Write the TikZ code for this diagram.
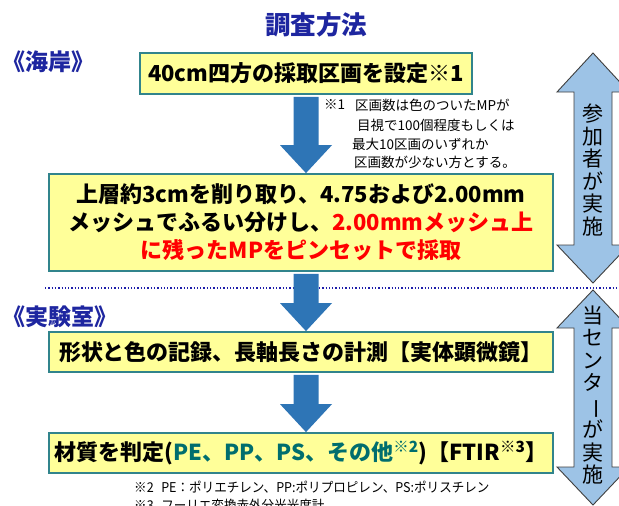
\documentclass[tikz,border=0pt]{standalone}
\usepackage{fontspec}
\usepackage{graphicx}
\setmainfont{Noto Sans CJK JP}
\usetikzlibrary{calc}
\definecolor{titleblue}{RGB}{30,38,160}
\definecolor{arrowblue}{RGB}{46,117,182}
\definecolor{boxfill}{RGB}{255,255,153}
\definecolor{boxline}{RGB}{49,132,140}
\definecolor{sideblue}{RGB}{157,195,230}
\definecolor{plastic}{RGB}{0,110,110}
\definecolor{dotblue}{RGB}{30,30,170}
\tikzset{
  stepbox/.style={draw=boxline, line width=1.8pt, fill=boxfill, inner sep=0pt, align=center,
    font=\bfseries\fontsize{22}{28}\selectfont},
  flowarrow/.style={fill=arrowblue},
  sidearrow/.style={fill=sideblue, draw=black!75, line width=0.9pt},
  sidetext/.style={align=center, inner sep=0pt, font=\fontsize{21}{22.5}\selectfont},
  notetext/.style={anchor=west, inner sep=0pt, font=\fontsize{13.5}{16}\selectfont},
  headtext/.style={anchor=west, text=titleblue, inner sep=0pt, font=\bfseries\fontsize{23}{26}\selectfont}
}
\newcommand\flowblock[2]{%
  \fill[flowarrow] ($(ax |- #1.south)+(-12.5,2)$) -- ($(ax |- #1.south)+(12.5,2)$)
    -- ($(ax |- #2.north)+(12.5,-28)$) -- ($(ax |- #2.north)+(26,-28)$)
    -- (ax |- #2.north) -- ($(ax |- #2.north)+(-26,-28)$)
    -- ($(ax |- #2.north)+(-12.5,-28)$) -- cycle;}
\begin{document}
\begin{tikzpicture}[x=1pt,y=-1pt]
\clip (0,0) rectangle (619,506);
\fill[white] (0,0) rectangle (619,506);
\coordinate (ax) at (306,0);

% title and section heads
\node[text=titleblue, font=\bfseries\fontsize{25.5}{28}\selectfont] (title) at (316,25) {調査方法};
\node[headtext] (coast) at (2,62) {《海岸》};
\node[headtext] (lab) at (2,317) {《実験室》};

% dotted separator
\coordinate (dl) at (45,288);
\coordinate (dr) at (619,288);
\draw[dotblue, dotted, line width=1.3pt] (dl) -- (dr);

% boxes
\node[stepbox, minimum width=332pt, minimum height=41pt] (b1) at (306,73.5) {40cm四方の採取区画を設定※1};
\node[stepbox, minimum width=504pt, minimum height=97pt] (b2) at (301,222.5)
  {上層約3cmを削り取り、4.75および2.00mm\\
   メッシュでふるい分けし、\textcolor{red}{2.00mmメッシュ上}\\
   \textcolor{red}{に残ったMPをピンセットで採取}};
\node[stepbox, minimum width=504pt, minimum height=40pt] (b3) at (301,352) {形状と色の記録、長軸長さの計測【実体顕微鏡】};
\node[stepbox, minimum width=504pt, minimum height=40pt] (b4) at (301,453)
  {材質を判定(\textcolor{plastic}{PE、PP、PS、その他\textsuperscript{※2}})【FTIR\textsuperscript{※3}】};

% flow arrows
\flowblock{b1}{b2}
\flowblock{b2}{b3}
\flowblock{b3}{b4}

% note 1
\node[notetext] (n1a) at (324,105) {※1};
\node[notetext] (n1b) at (355,105) {区画数は色のついたMPが};
\node[notetext] (n1c) at (357,125) {目視で100個程度もしくは};
\node[notetext] (n1d) at (352,144) {最大10区画のいずれか};
\node[notetext] (n1e) at (354,162) {区画数が少ない方とする。};

% notes 2 and 3
\node[notetext] (n2) at (134,487) {\scalebox{0.93}[1]{※2\hspace{0.6em}PE：ポリエチレン、PP:ポリプロピレン、PS:ポリスチレン}};
\node[notetext] (n3) at (134,505) {\scalebox{0.93}[1]{※3\hspace{0.6em}フーリエ変換赤外分光光度計}};

% side double arrows
\draw[sidearrow] (593,53) -- (629,92) -- (612,92) -- (612,245) -- (629,245) -- (593,283)
  -- (557,245) -- (574,245) -- (574,92) -- (557,92) -- cycle;
\node[sidetext] (s1) at (593,170) {参\\加\\者\\が\\実\\施};
\draw[sidearrow] (593,290) -- (629,328) -- (612,328) -- (612,467) -- (629,467) -- (593,505)
  -- (557,467) -- (574,467) -- (574,328) -- (557,328) -- cycle;
\node[sidetext] (s2) at (593,395) {当\\セ\\ン\\タ\\\rotatebox[origin=c]{-90}{ー}\\が\\実\\施};
\end{tikzpicture}
\end{document}
